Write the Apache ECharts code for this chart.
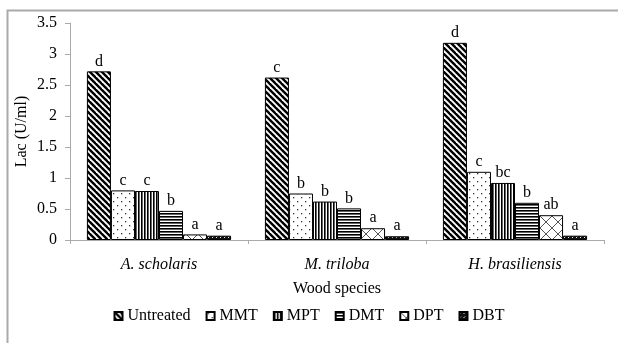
<!DOCTYPE html>
<html>
<head>
<meta charset="utf-8">
<script src="https://cdn.jsdelivr.net/npm/echarts@6/dist/echarts.min.js"></script>
<style>html,body{margin:0;padding:0;background:#fff}#c{width:618px;height:343px}</style>
</head>
<body>
<div id="c"></div>
<script>
var categories = ['A. scholaris', 'M. triloba', 'H. brasiliensis'];
var seriesNames = ['Untreated', 'MMT', 'MPT', 'DMT', 'DPT', 'DBT'];
var untreated = [2.72, 2.62, 3.18];
var mmt = [0.80, 0.75, 1.10];
var mpt = [0.79, 0.62, 0.92];
var dmt = [0.47, 0.51, 0.60];
var dpt = [0.09, 0.19, 0.40];
var dbt = [0.07, 0.06, 0.07];
var lettersUntreated = ['d', 'c', 'd'];
var lettersMMT = ['c', 'b', 'c'];
var lettersMPT = ['c', 'b', 'bc'];
var lettersDMT = ['b', 'b', 'b'];
var lettersDPT = ['a', 'a', 'ab'];
var lettersDBT = ['a', 'a', 'a'];
var yTicks = [0, 0.5, 1, 1.5, 2, 2.5, 3, 3.5];

function tile(w, h, draw) {
  var c = document.createElement('canvas');
  c.width = w; c.height = h;
  var ctx = c.getContext('2d');
  ctx.fillStyle = '#fff'; ctx.fillRect(0, 0, w, h);
  draw(ctx, w, h);
  return { image: c, repeat: 'repeat' };
}
var patterns = {
  Untreated: tile(6, 6, function (ctx, w, h) {
    ctx.strokeStyle = '#000'; ctx.lineWidth = 2.4;
    for (var k = -1; k <= 1; k++) {
      ctx.beginPath(); ctx.moveTo(k * w - 1, -1); ctx.lineTo(k * w + w + 1, h + 1); ctx.stroke();
    }
  }),
  MMT: tile(8, 8, function (ctx) {
    ctx.fillStyle = '#333';
    ctx.fillRect(1, 1, 1.3, 1.3);
    ctx.fillRect(5, 5, 1.3, 1.3);
  }),
  MPT: tile(3, 3, function (ctx) {
    ctx.fillStyle = '#000'; ctx.fillRect(0, 0, 1.6, 3);
  }),
  DMT: tile(3, 3, function (ctx) {
    ctx.fillStyle = '#000'; ctx.fillRect(0, 0, 3, 1.6);
  }),
  DPT: tile(12, 12, function (ctx) {
    ctx.strokeStyle = '#555'; ctx.lineWidth = 1;
    ctx.beginPath(); ctx.moveTo(0, 0); ctx.lineTo(12, 12); ctx.stroke();
    ctx.beginPath(); ctx.moveTo(12, 0); ctx.lineTo(0, 12); ctx.stroke();
  }),
  DBT: tile(4, 4, function (ctx, w, h) {
    ctx.fillStyle = '#111'; ctx.fillRect(0, 0, w, h);
    ctx.strokeStyle = '#fff'; ctx.lineWidth = 0.9;
    ctx.beginPath(); ctx.moveTo(0, 2); ctx.lineTo(1.5, 0.5); ctx.stroke();
  })
};

var values = [untreated, mmt, mpt, dmt, dpt, dbt];
var letters = [lettersUntreated, lettersMMT, lettersMPT, lettersDMT, lettersDPT, lettersDBT];
var font = 'Liberation Serif';
var fs = 16;

var series = seriesNames.map(function (name, i) {
  return {
    name: name,
    type: 'bar',
    barGap: 0,
    barCategoryGap: '19%',
    data: values[i],
    itemStyle: { color: patterns[name], borderColor: '#000', borderWidth: 1 },
    label: {
      show: true, position: 'top', distance: 2,
      fontFamily: font, fontSize: fs, color: '#000',
      formatter: function (p) { return letters[i][p.dataIndex]; }
    }
  };
});

var chart = echarts.init(document.getElementById('c'), null, { renderer: 'canvas' });
chart.setOption({
  animation: false,
  backgroundColor: '#fff',
  graphic: [{
    type: 'rect', left: 5, top: 8, shape: { width: 640, height: 360 },
    style: { fill: 'none', stroke: '#aaa', lineWidth: 2 }, silent: true, z: -10
  }],
  grid: { left: 70, right: 14, top: 23, bottom: 103, containLabel: false },
  legend: {
    data: seriesNames.map(function (n) { return { name: n, icon: 'rect' }; }),
    top: 303, left: 'center',
    itemWidth: 8, itemHeight: 8, itemGap: 15,
    textStyle: { fontFamily: font, fontSize: fs, color: '#000' }
  },
  xAxis: {
    type: 'category', data: categories,
    name: 'Wood species', nameLocation: 'middle', nameGap: 41,
    nameMoveOverlap: false,
    nameTextStyle: { fontFamily: font, fontSize: fs, color: '#000' },
    axisLine: { lineStyle: { color: '#aaa', width: 1 } },
    axisTick: { show: true, length: 4, lineStyle: { color: '#aaa' } },
    axisLabel: { fontFamily: font, fontSize: fs, fontStyle: 'italic', color: '#000', margin: 17 }
  },
  yAxis: {
    type: 'value', min: 0, max: 3.5, interval: 0.5,
    name: 'Lac (U/ml)', nameLocation: 'middle', nameGap: 40,
    nameMoveOverlap: false,
    nameTextStyle: { fontFamily: font, fontSize: fs, color: '#000' },
    axisLine: { show: true, lineStyle: { color: '#aaa', width: 1 } },
    axisTick: { show: true, length: 5, lineStyle: { color: '#aaa' } },
    splitLine: { show: false },
    axisLabel: {
      fontFamily: font, fontSize: fs, color: '#000', margin: 13,
      formatter: function (v) { return yTicks.indexOf(v) >= 0 ? String(v) : ''; }
    }
  },
  series: series
});
</script>
</body>
</html>
